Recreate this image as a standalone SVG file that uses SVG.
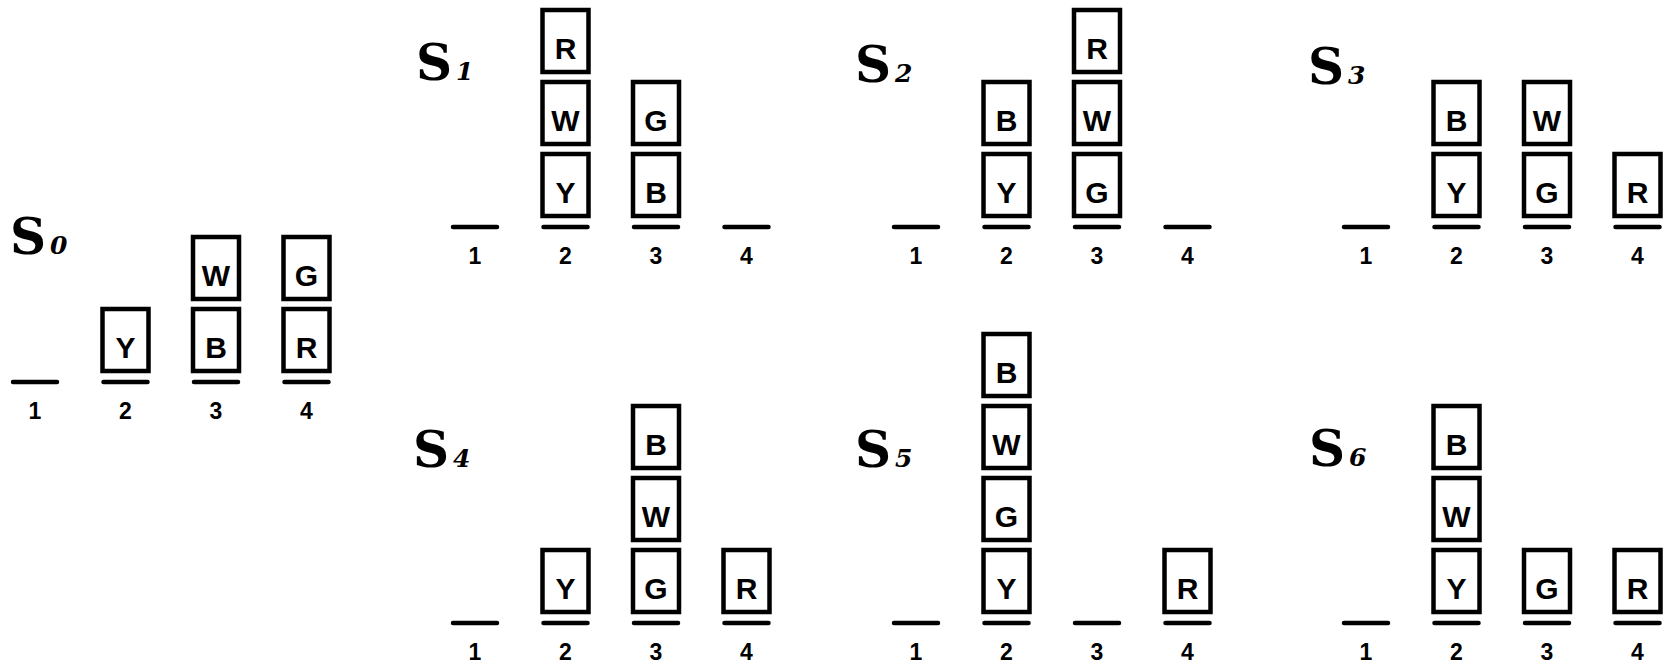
<svg xmlns="http://www.w3.org/2000/svg" width="1668" height="663" viewBox="0 0 1668 663">
<style>
.blk rect{fill:#fff;stroke:#000;stroke-width:4.5}
.blk text{font-family:"Liberation Sans",Arial,sans-serif;font-weight:bold;font-size:30px;text-anchor:middle;fill:#000}
.base{stroke:#000;stroke-width:4.5;stroke-linecap:round}
.num{font-family:"Liberation Sans",Arial,sans-serif;font-weight:bold;font-size:23px;text-anchor:middle;fill:#000}
.lbl{font-family:"DejaVu Serif","Liberation Serif",serif;font-weight:bold;font-size:50px;fill:#000}
.sub{font-family:"DejaVu Serif","Liberation Serif",serif;font-weight:bold;font-style:italic;font-size:25px}
</style>
<rect width="1668" height="663" fill="#fff"/>

<!-- S0 -->
<g id="state-S0">
<text class="lbl" x="10" y="254">S<tspan class="sub" dx="4">0</tspan></text>
<line class="base" x1="13" y1="382" x2="57" y2="382"/>
<line class="base" x1="103.5" y1="382" x2="147.5" y2="382"/>
<line class="base" x1="194" y1="382" x2="238" y2="382"/>
<line class="base" x1="284.5" y1="382" x2="328.5" y2="382"/>
<text class="num" x="35" y="419">1</text>
<text class="num" x="125.5" y="419">2</text>
<text class="num" x="216" y="419">3</text>
<text class="num" x="306.5" y="419">4</text>
<g id="S0-Y" class="blk"><rect x="102.5" y="309" width="46" height="62"/><text x="125.5" y="358">Y</text></g>
<g id="S0-B" class="blk"><rect x="193" y="309" width="46" height="62"/><text x="216" y="358">B</text></g>
<g id="S0-W" class="blk"><rect x="193" y="237" width="46" height="62"/><text x="216" y="286">W</text></g>
<g id="S0-R" class="blk"><rect x="283.5" y="309" width="46" height="62"/><text x="306.5" y="358">R</text></g>
<g id="S0-G" class="blk"><rect x="283.5" y="237" width="46" height="62"/><text x="306.5" y="286">G</text></g>
</g>

<!-- S1 -->
<g id="state-S1">
<text class="lbl" x="416" y="80">S<tspan class="sub" dx="4">1</tspan></text>
<line class="base" x1="453" y1="227" x2="497" y2="227"/>
<line class="base" x1="543.5" y1="227" x2="587.5" y2="227"/>
<line class="base" x1="634" y1="227" x2="678" y2="227"/>
<line class="base" x1="724.5" y1="227" x2="768.5" y2="227"/>
<text class="num" x="475" y="264">1</text>
<text class="num" x="565.5" y="264">2</text>
<text class="num" x="656" y="264">3</text>
<text class="num" x="746.5" y="264">4</text>
<g id="S1-Y" class="blk"><rect x="542.5" y="154" width="46" height="62"/><text x="565.5" y="203">Y</text></g>
<g id="S1-W" class="blk"><rect x="542.5" y="82" width="46" height="62"/><text x="565.5" y="131">W</text></g>
<g id="S1-R" class="blk"><rect x="542.5" y="10" width="46" height="62"/><text x="565.5" y="59">R</text></g>
<g id="S1-B" class="blk"><rect x="633" y="154" width="46" height="62"/><text x="656" y="203">B</text></g>
<g id="S1-G" class="blk"><rect x="633" y="82" width="46" height="62"/><text x="656" y="131">G</text></g>
</g>

<!-- S2 -->
<g id="state-S2">
<text class="lbl" x="855" y="82">S<tspan class="sub" dx="4">2</tspan></text>
<line class="base" x1="894" y1="227" x2="938" y2="227"/>
<line class="base" x1="984.5" y1="227" x2="1028.5" y2="227"/>
<line class="base" x1="1075" y1="227" x2="1119" y2="227"/>
<line class="base" x1="1165.5" y1="227" x2="1209.5" y2="227"/>
<text class="num" x="916" y="264">1</text>
<text class="num" x="1006.5" y="264">2</text>
<text class="num" x="1097" y="264">3</text>
<text class="num" x="1187.5" y="264">4</text>
<g id="S2-Y" class="blk"><rect x="983.5" y="154" width="46" height="62"/><text x="1006.5" y="203">Y</text></g>
<g id="S2-B" class="blk"><rect x="983.5" y="82" width="46" height="62"/><text x="1006.5" y="131">B</text></g>
<g id="S2-G" class="blk"><rect x="1074" y="154" width="46" height="62"/><text x="1097" y="203">G</text></g>
<g id="S2-W" class="blk"><rect x="1074" y="82" width="46" height="62"/><text x="1097" y="131">W</text></g>
<g id="S2-R" class="blk"><rect x="1074" y="10" width="46" height="62"/><text x="1097" y="59">R</text></g>
</g>

<!-- S3 -->
<g id="state-S3">
<text class="lbl" x="1308" y="84">S<tspan class="sub" dx="4">3</tspan></text>
<line class="base" x1="1344" y1="227" x2="1388" y2="227"/>
<line class="base" x1="1434.5" y1="227" x2="1478.5" y2="227"/>
<line class="base" x1="1525" y1="227" x2="1569" y2="227"/>
<line class="base" x1="1615.5" y1="227" x2="1659.5" y2="227"/>
<text class="num" x="1366" y="264">1</text>
<text class="num" x="1456.5" y="264">2</text>
<text class="num" x="1547" y="264">3</text>
<text class="num" x="1637.5" y="264">4</text>
<g id="S3-Y" class="blk"><rect x="1433.5" y="154" width="46" height="62"/><text x="1456.5" y="203">Y</text></g>
<g id="S3-B" class="blk"><rect x="1433.5" y="82" width="46" height="62"/><text x="1456.5" y="131">B</text></g>
<g id="S3-G" class="blk"><rect x="1524" y="154" width="46" height="62"/><text x="1547" y="203">G</text></g>
<g id="S3-W" class="blk"><rect x="1524" y="82" width="46" height="62"/><text x="1547" y="131">W</text></g>
<g id="S3-R" class="blk"><rect x="1614.5" y="154" width="46" height="62"/><text x="1637.5" y="203">R</text></g>
</g>

<!-- S4 -->
<g id="state-S4">
<text class="lbl" x="413" y="467">S<tspan class="sub" dx="4">4</tspan></text>
<line class="base" x1="453" y1="623" x2="497" y2="623"/>
<line class="base" x1="543.5" y1="623" x2="587.5" y2="623"/>
<line class="base" x1="634" y1="623" x2="678" y2="623"/>
<line class="base" x1="724.5" y1="623" x2="768.5" y2="623"/>
<text class="num" x="475" y="660">1</text>
<text class="num" x="565.5" y="660">2</text>
<text class="num" x="656" y="660">3</text>
<text class="num" x="746.5" y="660">4</text>
<g id="S4-Y" class="blk"><rect x="542.5" y="550" width="46" height="62"/><text x="565.5" y="599">Y</text></g>
<g id="S4-G" class="blk"><rect x="633" y="550" width="46" height="62"/><text x="656" y="599">G</text></g>
<g id="S4-W" class="blk"><rect x="633" y="478" width="46" height="62"/><text x="656" y="527">W</text></g>
<g id="S4-B" class="blk"><rect x="633" y="406" width="46" height="62"/><text x="656" y="455">B</text></g>
<g id="S4-R" class="blk"><rect x="723.5" y="550" width="46" height="62"/><text x="746.5" y="599">R</text></g>
</g>

<!-- S5 -->
<g id="state-S5">
<text class="lbl" x="855" y="467">S<tspan class="sub" dx="4">5</tspan></text>
<line class="base" x1="894" y1="623" x2="938" y2="623"/>
<line class="base" x1="984.5" y1="623" x2="1028.5" y2="623"/>
<line class="base" x1="1075" y1="623" x2="1119" y2="623"/>
<line class="base" x1="1165.5" y1="623" x2="1209.5" y2="623"/>
<text class="num" x="916" y="660">1</text>
<text class="num" x="1006.5" y="660">2</text>
<text class="num" x="1097" y="660">3</text>
<text class="num" x="1187.5" y="660">4</text>
<g id="S5-Y" class="blk"><rect x="983.5" y="550" width="46" height="62"/><text x="1006.5" y="599">Y</text></g>
<g id="S5-G" class="blk"><rect x="983.5" y="478" width="46" height="62"/><text x="1006.5" y="527">G</text></g>
<g id="S5-W" class="blk"><rect x="983.5" y="406" width="46" height="62"/><text x="1006.5" y="455">W</text></g>
<g id="S5-B" class="blk"><rect x="983.5" y="334" width="46" height="62"/><text x="1006.5" y="383">B</text></g>
<g id="S5-R" class="blk"><rect x="1164.5" y="550" width="46" height="62"/><text x="1187.5" y="599">R</text></g>
</g>

<!-- S6 -->
<g id="state-S6">
<text class="lbl" x="1309" y="466">S<tspan class="sub" dx="4">6</tspan></text>
<line class="base" x1="1344" y1="623" x2="1388" y2="623"/>
<line class="base" x1="1434.5" y1="623" x2="1478.5" y2="623"/>
<line class="base" x1="1525" y1="623" x2="1569" y2="623"/>
<line class="base" x1="1615.5" y1="623" x2="1659.5" y2="623"/>
<text class="num" x="1366" y="660">1</text>
<text class="num" x="1456.5" y="660">2</text>
<text class="num" x="1547" y="660">3</text>
<text class="num" x="1637.5" y="660">4</text>
<g id="S6-Y" class="blk"><rect x="1433.5" y="550" width="46" height="62"/><text x="1456.5" y="599">Y</text></g>
<g id="S6-W" class="blk"><rect x="1433.5" y="478" width="46" height="62"/><text x="1456.5" y="527">W</text></g>
<g id="S6-B" class="blk"><rect x="1433.5" y="406" width="46" height="62"/><text x="1456.5" y="455">B</text></g>
<g id="S6-G" class="blk"><rect x="1524" y="550" width="46" height="62"/><text x="1547" y="599">G</text></g>
<g id="S6-R" class="blk"><rect x="1614.5" y="550" width="46" height="62"/><text x="1637.5" y="599">R</text></g>
</g>
</svg>
